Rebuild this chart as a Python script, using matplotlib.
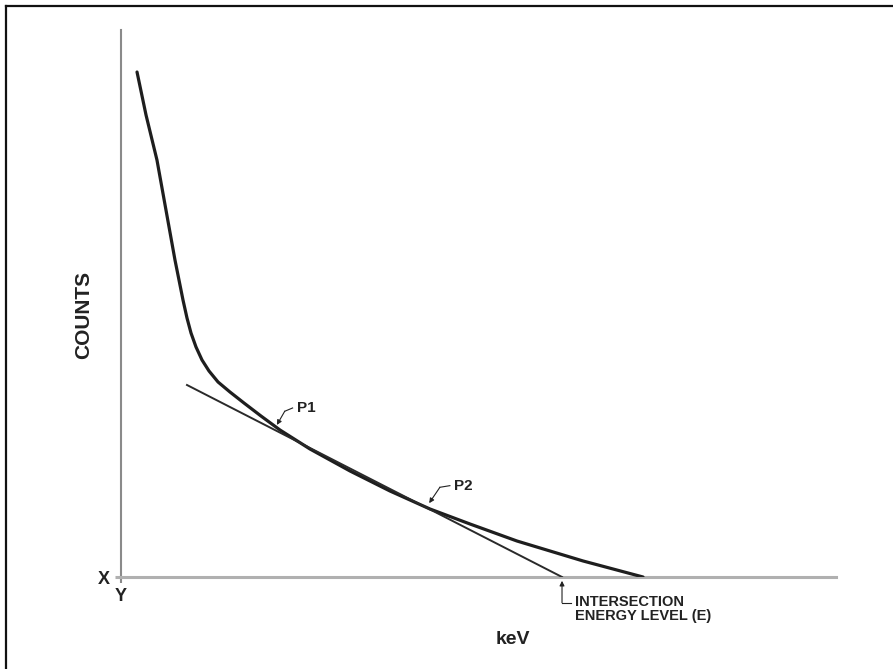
import matplotlib.pyplot as plt
from matplotlib.lines import Line2D

plt.rcParams['font.family'] = ['Liberation Sans', 'DejaVu Sans']
plt.rcParams['font.weight'] = 'bold'

kev = [2.24, 3.50, 5.03, 6.29, 7.55, 8.11, 8.67, 9.23, 9.79, 10.49, 11.33,
       12.31, 13.57, 15.24, 17.20, 19.58, 22.24, 26.43, 32.03, 37.62, 43.22,
       48.81, 55.38, 64.62, 73.01]
counts = [92.32, 84.46, 76.23, 67.09, 57.95, 54.30, 50.64, 47.35, 44.61,
          42.05, 39.67, 37.66, 35.65, 33.82, 31.81, 29.43, 26.87, 23.40, 19.38,
          15.72, 12.43, 9.69, 6.58, 2.93, 0.0]

# straight line through P1 and P2, extended down to the energy axis
line_kev = [9.23, 61.68]
line_counts = [35.10, 0.0]

p1 = (21.8, 27.8)
p2 = (43.1, 13.5)
energy_e = 61.68

text_col = '#222222'

fig = plt.figure(figsize=(8.93, 6.69), dpi=100)
ax = fig.add_axes([121 / 893, 92 / 669, 715 / 893, 547 / 669])
ax.set_xlim(0, 100)
ax.set_ylim(0, 100)

for side in ['top', 'right']:
    ax.spines[side].set_visible(False)
ax.spines['left'].set_color('#8a8a8a')
ax.spines['left'].set_linewidth(1.5)
ax.spines['bottom'].set_color('#b0b0b0')
ax.spines['bottom'].set_linewidth(2.2)

ax.set_xticks([0])
ax.set_xticklabels(['Y'])
ax.set_yticks([0])
ax.set_yticklabels(['X'])
ax.tick_params(axis='x', length=4.5, width=1.5, color='#8a8a8a', pad=3.5,
               labelsize=13, labelcolor=text_col)
ax.tick_params(axis='y', length=4.5, width=2.2, color='#b0b0b0', pad=3.5,
               labelsize=13, labelcolor=text_col)

ax.set_xlabel('keV', fontsize=14, color=text_col, fontweight='bold')
ax.set_ylabel('COUNTS', fontsize=15, color=text_col, fontweight='bold')
ax.xaxis.set_label_coords(0.548, -0.098)
ax.yaxis.set_label_coords(-0.039, 0.479)

ax.plot(kev, counts, color='#1e1e1e', linewidth=2.3, solid_capstyle='round',
        solid_joinstyle='round', zorder=3)
ax.plot(line_kev, line_counts, color='#2a2a2a', linewidth=1.4, zorder=3)


def leader(tip, bend, end, label):
    # bent pointer line with a small arrowhead at the tip
    ax.plot([bend[0], end[0]], [bend[1], end[1]], color=text_col,
            linewidth=0.8, clip_on=False)
    ax.annotate('', xy=tip, xytext=bend,
                arrowprops=dict(arrowstyle='-|>', color=text_col, lw=0.8,
                                mutation_scale=7, shrinkA=0, shrinkB=0),
                annotation_clip=False)
    ax.text(end[0] + 0.6, end[1], label, fontsize=11, color=text_col,
            ha='left', va='center', fontweight='bold')


leader(p1, (p1[0] + 1.1, p1[1] + 2.5), (p1[0] + 2.2, p1[1] + 3.1), 'P1')
leader(p2, (p2[0] + 1.5, p2[1] + 2.9), (p2[0] + 2.9, p2[1] + 3.2), 'P2')

# intersection pointer below the axis
ax.plot([energy_e, energy_e + 1.3], [-4.7, -4.7], color=text_col,
        linewidth=0.8, clip_on=False)
ax.annotate('', xy=(energy_e, -0.7), xytext=(energy_e, -4.7),
            arrowprops=dict(arrowstyle='-|>', color=text_col, lw=0.8,
                            mutation_scale=7, shrinkA=0, shrinkB=0),
            annotation_clip=False)
ax.text(energy_e + 1.8, -3.3, 'INTERSECTION\nENERGY LEVEL (E)', fontsize=10.5,
        color=text_col, ha='left', va='top', linespacing=1.0,
        fontweight='bold')

# page frame along the top and left edges
fig.add_artist(Line2D([6 / 893, 1], [1 - 6 / 669, 1 - 6 / 669],
                      color='#111111', linewidth=1.6))
fig.add_artist(Line2D([6 / 893, 6 / 893], [0, 1 - 6 / 669],
                      color='#111111', linewidth=1.6))

fig.savefig('out.png', dpi=100)
